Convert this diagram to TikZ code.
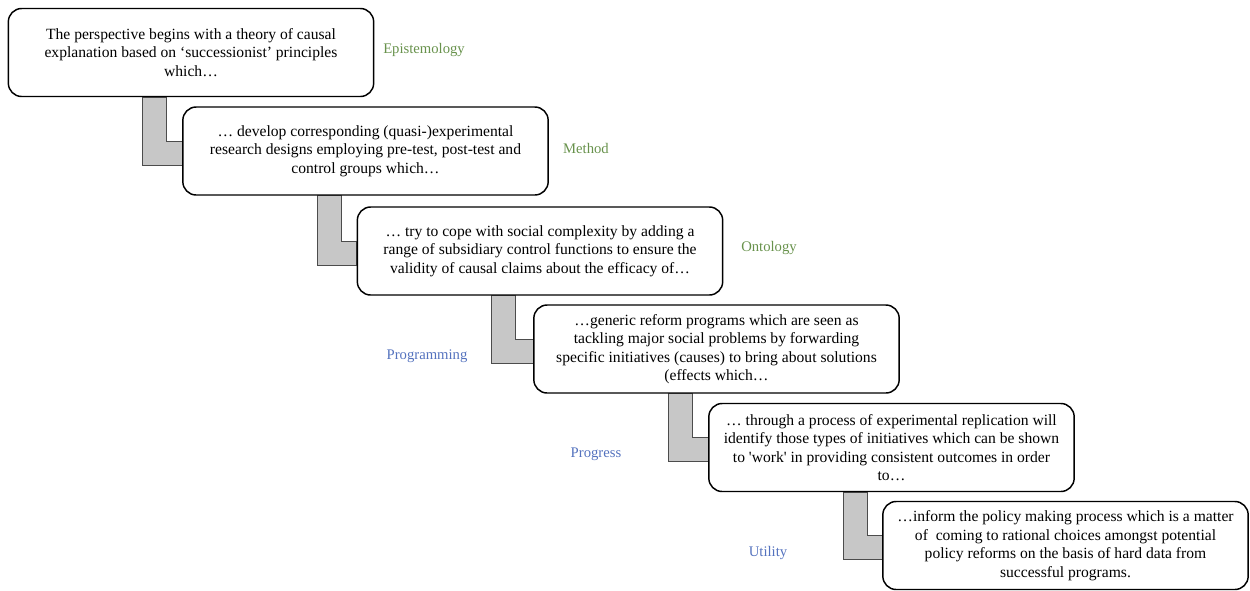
\documentclass[tikz,border=0pt]{standalone}
\usepackage{fontspec}
\setmainfont{Liberation Serif}
\usetikzlibrary{positioning, calc, backgrounds}

\definecolor{epigreen}{RGB}{104,146,76}
\definecolor{progblue}{RGB}{84,114,190}

\begin{document}
\begin{tikzpicture}[x=0.75pt,y=-0.75pt,
 font=\fontsize{11}{13.9}\selectfont,
 step box/.style={draw,rounded corners=10pt,line width=1.1pt,fill=white,
   align=center,minimum width=274pt,minimum height=66pt,inner sep=2pt,
   font=\fontsize{11.7}{13.9}\selectfont},
 band/.style={draw=black!70,fill=black!22,line width=0.7pt},
 green label/.style={text=epigreen},
 blue label/.style={text=progblue}]
  \useasboundingbox (0,0) rectangle (1250,590);

  \node[step box] (b1) at (191,52.5) {The perspective begins with a theory of causal\\ explanation based on ‘successionist’ principles\\ which…};
  \node[step box] (b2) at (365.5,151) {… develop corresponding (quasi-)experimental\\ research designs employing pre-test, post-test and\\ control groups which…};
  \node[step box] (b3) at (540,251) {… try to cope with social complexity by adding a\\ range of subsidiary control functions to ensure the\\ validity of causal claims about the efficacy of…};
  \node[step box] (b4) at (716.5,349) {…generic reform programs which are seen as\\ tackling major social problems by forwarding\\ specific initiatives (causes) to bring about solutions\\ (effects which…};
  \node[step box] (b5) at (891.5,447.5) {… through a process of experimental replication will\\ identify those types of initiatives which can be shown\\ to \textquotesingle work\textquotesingle{} in providing consistent outcomes in order\\ to…};
  \node[step box] (b6) at (1065.5,545.5) {…inform the policy making process which is a matter\\ of~ coming to rational choices amongst potential\\ policy reforms on the basis of hard data from\\ successful programs.};

  \node[green label] (epi) at (424,50) {Epistemology};
  \node[green label] (met) at (586,148) {Method};
  \node[green label] (ont) at (769,248) {Ontology};
  \node[blue label] (prg) at (427,356) {Programming};
  \node[blue label] (pro) at (596,454) {Progress};
  \node[blue label] (uti) at (768,553) {Utility};

  \begin{scope}[on background layer]
  \foreach \s/\t in {b1/b2, b2/b3, b3/b4, b4/b5, b5/b6} {
    \draw[band] ($(\s.south west)+(135,0)$) -- ($(\s.south west)+(159,0)$)
      |- ($(\t.west)+(0,-10)$) -- ($(\t.west)+(0,14)$)
      -| ($(\s.south west)+(135,0)$) -- cycle;}
  \end{scope}
\end{tikzpicture}
\end{document}
